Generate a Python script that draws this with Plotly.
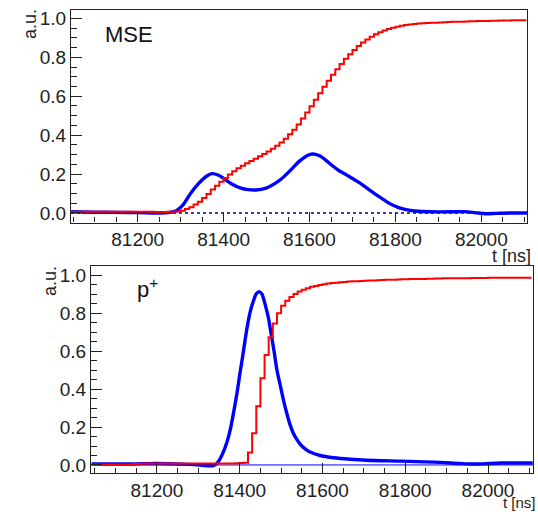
import plotly.graph_objects as go

# ---------------- data ----------------
BIN_START = 81045   # centre of first 10 ns bin
BIN_WIDTH = 10

# MSE panel: cumulative (red histogram, 10 ns bins)
mse_cum = [
    0.006, 0.006, 0.006, 0.006, 0.006, 0.006, 0.006, 0.006, 0.006, 0.006,
    0.006, 0.006, 0.006, 0.006, 0.006, 0.006, 0.006, 0.006, 0.006, 0.006,
    0.005, 0.005, 0.005, 0.006, 0.006, 0.008, 0.012, 0.020, 0.030, 0.043,
    0.058, 0.077, 0.098, 0.120, 0.140, 0.160, 0.180, 0.198, 0.215, 0.230,
    0.243, 0.255, 0.267, 0.279, 0.291, 0.303, 0.316, 0.330, 0.345, 0.362,
    0.382, 0.404, 0.428, 0.455, 0.485, 0.516, 0.549, 0.582, 0.615, 0.648,
    0.680, 0.710, 0.739, 0.766, 0.792, 0.816, 0.838, 0.858, 0.876, 0.892,
    0.906, 0.918, 0.929, 0.938, 0.946, 0.952, 0.957, 0.962, 0.966, 0.969,
    0.971, 0.973, 0.975, 0.976, 0.977, 0.978, 0.979, 0.980, 0.981, 0.982,
    0.982, 0.983, 0.984, 0.985, 0.985, 0.986, 0.987, 0.987, 0.988, 0.988,
    0.989, 0.989, 0.989, 0.990, 0.990, 0.990, 0.990,
]

# MSE panel: pulse (blue curve)
mse_pulse_t = [81045, 81100, 81150, 81200, 81250, 81275, 81290, 81305, 81323,
               81342, 81361, 81373, 81387, 81400, 81419, 81440, 81457, 81475,
               81499, 81520, 81537, 81556, 81576, 81595, 81607, 81622, 81637,
               81652, 81668, 81685, 81699, 81715, 81729, 81748, 81768, 81787,
               81806, 81825, 81845, 81883, 81930, 81960, 81985, 82010, 82036,
               82070, 82107]
mse_pulse_v = [0.006, 0.004, 0.003, 0.002, 0.000, 0.003, 0.012, 0.040, 0.100,
               0.152, 0.190, 0.202, 0.195, 0.178, 0.149, 0.128, 0.120, 0.118,
               0.128, 0.152, 0.180, 0.220, 0.265, 0.295, 0.303, 0.295, 0.273,
               0.245, 0.218, 0.197, 0.178, 0.157, 0.135, 0.105, 0.075, 0.048,
               0.029, 0.017, 0.010, 0.006, 0.006, 0.007, 0.002, -0.004, -0.002,
               0.000, 0.000]

# p+ panel: cumulative (red histogram, 10 ns bins)
p_cum = [
    0.003, 0.003, 0.003, 0.003, 0.003, 0.003, 0.003, 0.003, 0.003, 0.003,
    0.005, 0.006, 0.007, 0.008, 0.008, 0.008, 0.008, 0.008, 0.008, 0.008,
    0.008, 0.008, 0.008, 0.008, 0.008, 0.008, 0.008, 0.008, 0.008, 0.008,
    0.008, 0.008, 0.008, 0.008, 0.008, 0.009, 0.010, 0.012, 0.066, 0.168,
    0.310, 0.457, 0.580, 0.674, 0.747, 0.800, 0.840, 0.866, 0.887, 0.902,
    0.915, 0.925, 0.933, 0.940, 0.945, 0.950, 0.954, 0.957, 0.960, 0.962,
    0.964, 0.966, 0.968, 0.969, 0.970, 0.971, 0.972, 0.973, 0.974, 0.975,
    0.976, 0.977, 0.977, 0.978, 0.979, 0.980, 0.980, 0.981, 0.981, 0.982,
    0.982, 0.983, 0.983, 0.984, 0.984, 0.985, 0.985, 0.985, 0.986, 0.986,
    0.986, 0.986, 0.987, 0.987, 0.987, 0.987, 0.988, 0.988, 0.988, 0.988,
    0.988, 0.988, 0.988, 0.988, 0.988, 0.988, 0.988,
]

# p+ panel: pulse (blue curve)
p_pulse_t = [81042, 81100, 81150, 81200, 81250, 81290, 81320, 81338, 81349,
             81361, 81369, 81377, 81385, 81393, 81401, 81409, 81417, 81425,
             81433, 81440, 81447, 81454, 81461, 81469, 81476, 81483, 81490,
             81498, 81506, 81514, 81522, 81530, 81538, 81546, 81558, 81570,
             81594, 81627, 81667, 81707, 81788, 81869, 81930, 81960, 81990,
             82030, 82108]
p_pulse_v = [0.006, 0.005, 0.006, 0.008, 0.005, 0.002, -0.004, -0.002, 0.020,
             0.072, 0.120, 0.185, 0.275, 0.375, 0.490, 0.600, 0.715, 0.805,
             0.865, 0.903, 0.915, 0.900, 0.850, 0.780, 0.690, 0.600, 0.500,
             0.420, 0.340, 0.270, 0.210, 0.165, 0.135, 0.110, 0.085, 0.068,
             0.050, 0.038, 0.030, 0.025, 0.020, 0.015, 0.008, 0.005, 0.006,
             0.010, 0.010]

panel_labels = ["MSE", "p<sup>+</sup>"]
x_title = "t [ns]"
y_title = "a.u."


def centres(values):
    return [BIN_START + BIN_WIDTH * i for i in range(len(values))]


# ---------------- figure ----------------
W, H = 538, 512
FONT = "Liberation Sans, Arial, Helvetica, sans-serif"
BLUE = "#0000ff"
RED = "#ff0000"

fig = go.Figure()
fig.add_trace(go.Scatter(x=mse_pulse_t, y=mse_pulse_v, mode="lines",
                         line=dict(color=BLUE, width=3.4, shape="spline", smoothing=0.8),
                         xaxis="x", yaxis="y", showlegend=False, hoverinfo="skip"))
fig.add_trace(go.Scatter(x=centres(mse_cum), y=mse_cum, mode="lines",
                         line=dict(color=RED, width=2, shape="hvh"),
                         xaxis="x", yaxis="y", showlegend=False, hoverinfo="skip"))
fig.add_trace(go.Scatter(x=p_pulse_t, y=p_pulse_v, mode="lines",
                         line=dict(color=BLUE, width=3.4, shape="spline", smoothing=0.8),
                         xaxis="x2", yaxis="y2", showlegend=False, hoverinfo="skip"))
fig.add_trace(go.Scatter(x=centres(p_cum), y=p_cum, mode="lines",
                         line=dict(color=RED, width=2, shape="hvh"),
                         xaxis="x2", yaxis="y2", showlegend=False, hoverinfo="skip"))


def px_x(p):
    return p / W


def px_y(p):
    return 1 - p / H


tickfont = dict(family=FONT, size=19, color="#222")
common = dict(showline=True, linecolor="#222", linewidth=1.2, mirror=True,
              ticks="inside", tickcolor="#222", tickwidth=1, automargin=False,
              showgrid=False, zeroline=False, tickfont=tickfont)

xaxis_common = dict(common, tick0=0, dtick=200, ticklen=10, tickformat="d",
                    minor=dict(ticks="inside", ticklen=5, dtick=50, tickcolor="#222"))
yaxis_common = dict(common, tick0=0, dtick=0.2, ticklen=11, tickformat=".1f",
                    minor=dict(ticks="inside", ticklen=6, dtick=0.05, tickcolor="#222"))

fig.update_layout(
    width=W, height=H,
    margin=dict(l=0, r=0, t=0, b=0),
    paper_bgcolor="white", plot_bgcolor="white",
    xaxis=dict(xaxis_common, domain=[px_x(71), px_x(527.3)], anchor="y",
               range=[81044.7, 82107]),
    yaxis=dict(yaxis_common, domain=[px_y(222.5), px_y(10)], anchor="x",
               range=[-0.049, 1.043]),
    xaxis2=dict(xaxis_common, domain=[px_x(91), px_x(533)], anchor="y2",
                range=[81040.6, 82108.7]),
    yaxis2=dict(yaxis_common, domain=[px_y(473.3), px_y(266)], anchor="x2",
                range=[-0.044, 1.05]),
    shapes=[
        dict(type="line", xref="x domain", yref="y", x0=0, x1=1, y0=0, y1=0,
             line=dict(color="#000080", width=1.5, dash="dot"), layer="below"),
        dict(type="line", xref="x2 domain", yref="y2", x0=0, x1=1, y0=0, y1=0,
             line=dict(color=BLUE, width=1), layer="below"),
    ],
    annotations=[
        dict(text=panel_labels[0], xref="paper", yref="paper",
             x=px_x(103), y=px_y(34), xanchor="left", yanchor="middle",
             showarrow=False, font=dict(family=FONT, size=22, color="#111")),
        dict(text=panel_labels[1], xref="paper", yref="paper",
             x=px_x(135), y=px_y(288), xanchor="left", yanchor="middle",
             showarrow=False, font=dict(family=FONT, size=22, color="#111")),
        dict(text=y_title, xref="paper", yref="paper", textangle=-90,
             x=px_x(30), y=px_y(24), xanchor="center", yanchor="middle",
             showarrow=False, font=dict(family=FONT, size=18, color="#222")),
        dict(text=y_title, xref="paper", yref="paper", textangle=-90,
             x=px_x(50), y=px_y(281), xanchor="center", yanchor="middle",
             showarrow=False, font=dict(family=FONT, size=18, color="#222")),
        dict(text=x_title, xref="paper", yref="paper",
             x=px_x(533), y=px_y(256), xanchor="right", yanchor="middle",
             showarrow=False, font=dict(family=FONT, size=18, color="#222")),
        dict(text=x_title, xref="paper", yref="paper",
             x=px_x(537), y=0, xanchor="right", yanchor="bottom", borderpad=0,
             showarrow=False, font=dict(family=FONT, size=15, color="#222")),
    ],
)

fig.write_html("out.html", config={"displayModeBar": False},
               post_script="document.body.style.margin='0';")
